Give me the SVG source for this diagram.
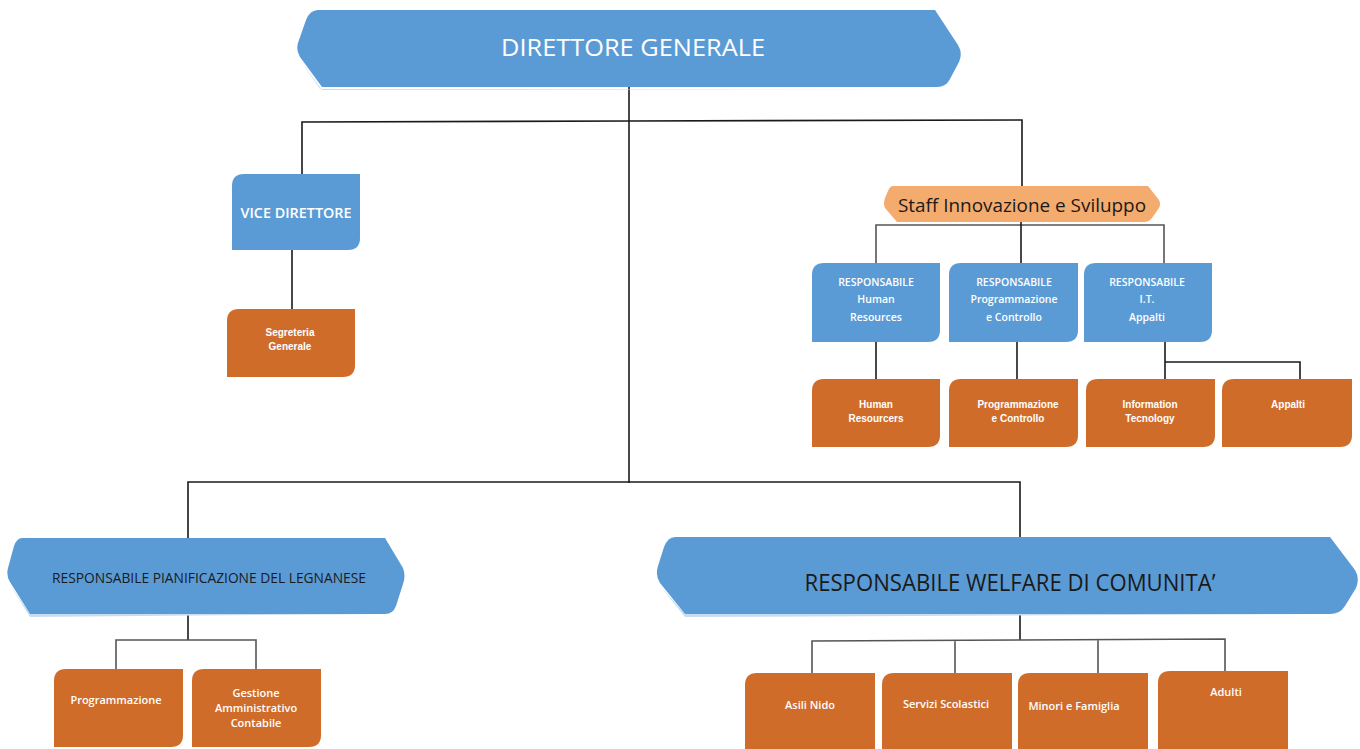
<svg xmlns="http://www.w3.org/2000/svg" width="1360" height="749" viewBox="0 0 1360 749">
<style>
.blue{fill:#5B9BD5}
.org{fill:#D06C2A}
.lorg{fill:#F4AB6E}
.shadow{fill:#C9DDF0}
.ln{stroke:#1a1a1a;stroke-width:1.6;fill:none}
.lng{stroke:#555;stroke-width:1.6;fill:none}
.tw{font-family:"Open Sans","Liberation Sans",sans-serif;fill:#fff;text-anchor:middle}
.td{font-family:"Open Sans","Liberation Sans",sans-serif;fill:#1a1a1a;text-anchor:middle}
.ts{font-family:"Liberation Sans",Arial,sans-serif;fill:#fff;text-anchor:middle;font-size:10px;font-weight:bold}
.tr{font-family:"Open Sans","Liberation Sans",sans-serif;fill:#fff;text-anchor:middle;font-size:10.5px;font-weight:600}
</style>
<rect width="1360" height="749" fill="#fff"/>
<g id="connectors">
<path class="ln" d="M629 87V483"/>
<path class="ln" d="M302 175V122L629 121L1022 120V186"/>
<path class="ln" d="M292 250V309"/>
<path class="lng" d="M876 264V225H1164V264"/>
<path class="ln" d="M1021 222V264"/>
<path class="ln" d="M876 342V380"/>
<path class="ln" d="M1017 342V380"/>
<path class="ln" d="M1165 342V380M1165 362H1300V380"/>
<path class="ln" d="M188 540V482H1020V538"/>
<path class="ln" d="M188 614V640"/>
<path class="lng" d="M116 670V640H256V670"/>
<path class="ln" d="M1020 614V640"/>
<path class="lng" d="M812 675V641L1020 640L1225 639V673M955 640V675M1098 640V675"/>
</g>
<g id="n-direttore">
<path class="shadow" d="M322 90L300 60L320 89H937Z"/>
<path class="blue" d="M318 10L935 10L958 45Q963 53 959 62L950 79Q946 87 937 87L322 87L300 57Q295 49 299 40L306 20Q310 10 318 10Z"/>
<text class="tw" x="633" y="56" font-size="24" textLength="264" lengthAdjust="spacingAndGlyphs">DIRETTORE GENERALE</text>
</g>
<g id="n-vice">
<path class="blue" d="M244 174H360V238Q360 250 348 250H232V186Q232 174 244 174Z"/>
<text class="tw" x="296" y="218" font-size="14" font-weight="600" textLength="111" lengthAdjust="spacingAndGlyphs">VICE DIRETTORE</text>
</g>
<g id="n-segreteria">
<path class="org" d="M239 309H355V365Q355 377 343 377H227V321Q227 309 239 309Z"/>
<text class="ts" x="290" y="336">Segreteria</text>
<text class="ts" x="290" y="350">Generale</text>
</g>
<g id="n-staff">
<path class="lorg" d="M893 186L1148 186L1159 200Q1161 204 1159 208L1152 218Q1149 222 1144 222L897 222L885 208Q883 204 885 198L888 191Q890 186 893 186Z"/>
<text class="td" x="1022" y="212" font-size="18" textLength="248" lengthAdjust="spacingAndGlyphs">Staff Innovazione e Sviluppo</text>
</g>
<g id="n-resp-hr">
<path class="blue" d="M824 263H940V330Q940 342 928 342H812V275Q812 263 824 263Z"/>
<text class="tr" x="876" y="286">RESPONSABILE</text>
<text class="tr" x="876" y="303">Human</text>
<text class="tr" x="876" y="321">Resources</text>
</g>
<g id="n-resp-prog">
<path class="blue" d="M961 263H1078V330Q1078 342 1066 342H949V275Q949 263 961 263Z"/>
<text class="tr" x="1014" y="286">RESPONSABILE</text>
<text class="tr" x="1014" y="303">Programmazione</text>
<text class="tr" x="1014" y="321">e Controllo</text>
</g>
<g id="n-resp-it">
<path class="blue" d="M1096 263H1212V330Q1212 342 1200 342H1084V275Q1084 263 1096 263Z"/>
<text class="tr" x="1147" y="286">RESPONSABILE</text>
<text class="tr" x="1147" y="303">I.T.</text>
<text class="tr" x="1147" y="321">Appalti</text>
</g>
<g id="n-hr">
<path class="org" d="M824 379H940V435Q940 447 928 447H812V391Q812 379 824 379Z"/>
<text class="ts" x="876" y="408">Human</text>
<text class="ts" x="876" y="422">Resourcers</text>
</g>
<g id="n-prog-contr">
<path class="org" d="M961 379H1078V435Q1078 447 1066 447H949V391Q949 379 961 379Z"/>
<text class="ts" x="1018" y="408">Programmazione</text>
<text class="ts" x="1018" y="422">e Controllo</text>
</g>
<g id="n-it">
<path class="org" d="M1098 379H1215V435Q1215 447 1203 447H1086V391Q1086 379 1098 379Z"/>
<text class="ts" x="1150" y="408">Information</text>
<text class="ts" x="1150" y="422">Tecnology</text>
</g>
<g id="n-appalti">
<path class="org" d="M1234 379H1352V435Q1352 447 1340 447H1222V391Q1222 379 1234 379Z"/>
<text class="ts" x="1288" y="408">Appalti</text>
</g>
<g id="n-pianificazione">
<path class="shadow" d="M30 617L10 585L30 614H385Z"/>
<path class="blue" d="M22 538L385 538L403 568Q406 576 403 584L396 606Q393 614 385 614L30 614L10 582Q6 576 8 568L14 546Q17 538 22 538Z"/>
<text class="td" x="209" y="583" font-size="14" textLength="314" lengthAdjust="spacingAndGlyphs">RESPONSABILE PIANIFICAZIONE DEL LEGNANESE</text>
</g>
<g id="n-programmazione">
<path class="org" d="M66 669H183V735Q183 747 171 747H54V681Q54 669 66 669Z"/>
<text class="tw" x="116" y="704" font-size="11" font-weight="600">Programmazione</text>
</g>
<g id="n-gestione">
<path class="org" d="M204 669H321V735Q321 747 309 747H192V681Q192 669 204 669Z"/>
<text class="tw" x="256" y="697" font-size="11" font-weight="600">Gestione</text>
<text class="tw" x="256" y="712" font-size="11" font-weight="600">Amministrativo</text>
<text class="tw" x="256" y="727" font-size="11" font-weight="600">Contabile</text>
</g>
<g id="n-welfare">
<path class="shadow" d="M685 617L660 586L685 614H1330Z"/>
<path class="blue" d="M675 537L1330 537L1355 570Q1360 578 1356 588L1345 606Q1340 614 1330 614L685 614L660 583Q655 576 658 566L664 547Q668 537 675 537Z"/>
<text class="td" x="1010" y="591" font-size="24" textLength="411" lengthAdjust="spacingAndGlyphs">RESPONSABILE WELFARE DI COMUNITA’</text>
</g>
<g id="n-asili">
<path class="org" d="M757 673H875V760H745V685Q745 673 757 673Z"/>
<text class="tw" x="810" y="709" font-size="11" font-weight="600">Asili Nido</text>
</g>
<g id="n-servizi">
<path class="org" d="M894 673H1012V760H882V685Q882 673 894 673Z"/>
<text class="tw" x="946" y="708" font-size="11" font-weight="600">Servizi Scolastici</text>
</g>
<g id="n-minori">
<path class="org" d="M1030 673H1148V760H1018V685Q1018 673 1030 673Z"/>
<text class="tw" x="1074" y="710" font-size="11" font-weight="600">Minori e Famiglia</text>
</g>
<g id="n-adulti">
<path class="org" d="M1170 671H1288V760H1158V683Q1158 671 1170 671Z"/>
<text class="tw" x="1226" y="696" font-size="11" font-weight="600">Adulti</text>
</g>
</svg>
